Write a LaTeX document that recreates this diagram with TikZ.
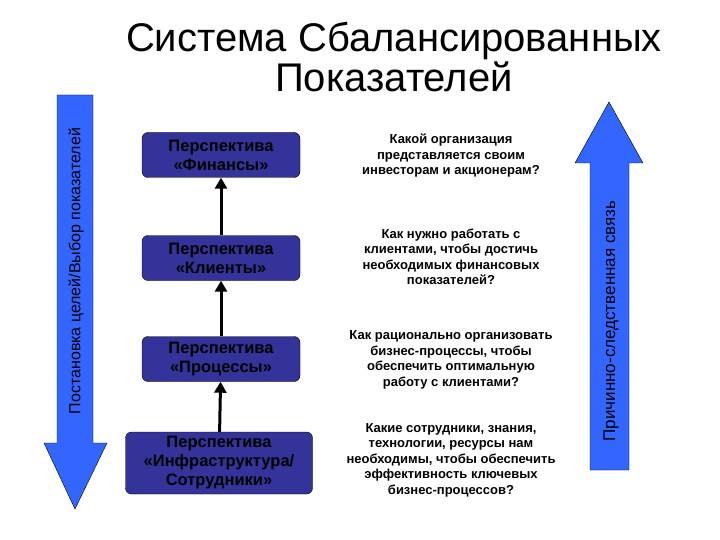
\documentclass[tikz,border=0pt]{standalone}
\usepackage{fontspec}
\setmainfont{Liberation Sans}
\usetikzlibrary{arrows.meta}
\definecolor{boxblue}{RGB}{51,51,153}
\definecolor{arrowblue}{RGB}{51,102,255}
\begin{document}
\begin{tikzpicture}[x=1pt,y=-1pt,
  persp/.style={draw=black,fill=boxblue,text=black,rounded corners=6pt,align=center,font=\fontsize{16.5}{19}\selectfont\bfseries\color{black},inner sep=0pt},
  question/.style={align=center,font=\fontsize{13}{15.5}\selectfont\bfseries},
  bigarrow/.style={draw=black,fill=arrowblue},
  link/.style={line width=3pt,-{Triangle[length=11pt,width=12pt]}}]
\useasboundingbox (0,0) rectangle (720,540);
\node[font=\fontsize{40}{40}\selectfont,align=center] (title) at (394,57) {Система Сбалансированных\\Показателей};
% left arrow
\draw[bigarrow] (57,95) -- (93,95) -- (93,443) -- (107,443) -- (75,509) -- (44,443) -- (57,443) -- cycle;
\node[rotate=90,font=\fontsize{16}{18}\selectfont] (ltext) at (76,271) {Постановка целей/Выбор показателей};
% right arrow
\draw[bigarrow] (590,470) -- (590,163) -- (575,163) -- (609,102) -- (643,163) -- (629,163) -- (629,470) -- cycle;
\node[rotate=90,font=\fontsize{17}{18}\selectfont] (rtext) at (611,321) {Причинно-следственная связь};
% boxes
\node[persp,minimum width=158pt,minimum height=45pt] (b1) at (221,155) {Перспектива\\«Финансы»};
\node[persp,minimum width=158pt,minimum height=45pt] (b2) at (221,258) {Перспектива\\«Клиенты»};
\node[persp,minimum width=158pt,minimum height=45pt] (b3) at (221,359) {Перспектива\\«Процессы»};
\node[persp,minimum width=187pt,minimum height=62pt] (b4) at (219,463) {Перспектива\\«Инфраструктура/\\Сотрудники»};
\draw[link] (b2) -- (b1);
\draw[link] (b3) -- (b2);
\draw[link] (b4) -- (b3);
% questions
\node[question] (q1) at (451,156) {Какой организация\\представляется своим\\инвесторам и акционерам?};
\node[question] (q2) at (451,257) {Как нужно работать с\\клиентами, чтобы достичь\\необходимых финансовых\\показателей?};
\node[question] (q3) at (451,360) {Как рационально организовать\\бизнес-процессы, чтобы\\обеспечить оптимальную\\работу с клиентами?};
\node[question] (q4) at (451,460) {Какие сотрудники, знания,\\технологии, ресурсы нам\\необходимы, чтобы обеспечить\\эффективность ключевых\\бизнес-процессов?};
\end{tikzpicture}
\end{document}
